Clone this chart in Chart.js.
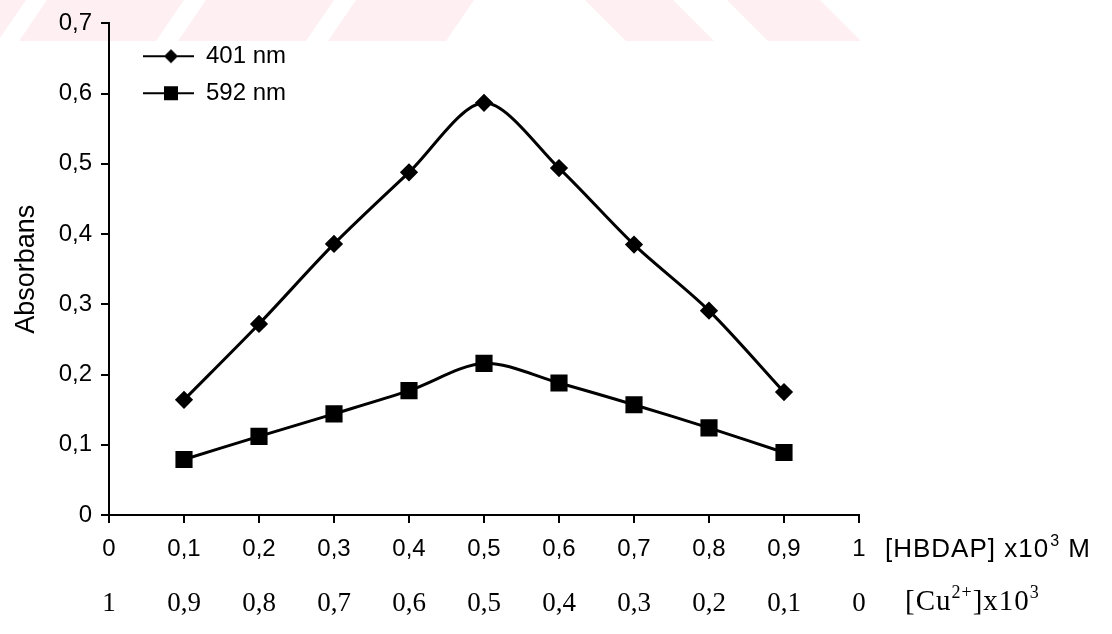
<!DOCTYPE html>
<html>
<head>
<meta charset="utf-8">
<script src="https://cdn.jsdelivr.net/npm/chart.js@4"></script>
<style>
  html, body { margin: 0; padding: 0; background: #fff; }
  #wrap { width: 1112px; height: 634px; position: relative; }
</style>
</head>
<body>
<div id="wrap"><canvas id="myChart"></canvas></div>
<script>
// concentrations (x) and absorbance values
const hbdapConc = [0.1, 0.2, 0.3, 0.4, 0.5, 0.6, 0.7, 0.8, 0.9];
const abs401 = [0.164, 0.272, 0.386, 0.488, 0.587, 0.494, 0.385, 0.291, 0.175];
const abs592 = [0.079, 0.112, 0.144, 0.177, 0.216, 0.188, 0.157, 0.124, 0.089];
const seriesNames = ['401 nm', '592 nm'];

// tick labels
const hbdapTicks = ['0', '0,1', '0,2', '0,3', '0,4', '0,5', '0,6', '0,7', '0,8', '0,9', '1'];
const cuTicks = ['1', '0,9', '0,8', '0,7', '0,6', '0,5', '0,4', '0,3', '0,2', '0,1', '0'];
const yTicks = ['0', '0,1', '0,2', '0,3', '0,4', '0,5', '0,6', '0,7'];

const SANS = "'Liberation Sans', Arial, sans-serif";
const SERIF = "'Liberation Serif', 'Times New Roman', serif";

Chart.defaults.font.family = SANS;
Chart.defaults.font.size = 24;
Chart.defaults.color = '#000';

// little legend icons: line with the marker in it
function legendIcon(kind) {
    const c = document.createElement('canvas');
    c.width = 72;
    c.height = 16;
    const g = c.getContext('2d');
    g.strokeStyle = '#000';
    g.lineWidth = 2;
    g.beginPath();
    g.moveTo(21, 8);
    g.lineTo(72, 8);
    g.stroke();
    g.fillStyle = '#000';
    g.beginPath();
    if (kind === 'diamond') {
        g.moveTo(49, 1); g.lineTo(56, 8); g.lineTo(49, 15); g.lineTo(42, 8);
    } else {
        g.rect(42, 1, 14, 14);
    }
    g.closePath();
    g.fill();
    return c;
}
const icons = [legendIcon('diamond'), legendIcon('square')];

// faint pink stripes of the scan at the top
const watermark = {
    id: 'watermark',
    beforeDraw(chart) {
        const ctx = chart.ctx;
        ctx.save();
        ctx.fillStyle = 'rgb(253,239,242)';
        const h = 41;
        const slashes = [[-40, 26], [47, 184], [206, 334], [356, 474]];
        slashes.forEach(([a, b]) => {
            ctx.beginPath();
            ctx.moveTo(a, 0); ctx.lineTo(b, 0); ctx.lineTo(b - 28, h); ctx.lineTo(a - 28, h);
            ctx.closePath(); ctx.fill();
        });
        const backs = [[585, 673], [727, 820]];
        backs.forEach(([a, b]) => {
            ctx.beginPath();
            ctx.moveTo(a, 0); ctx.lineTo(b, 0); ctx.lineTo(b + 41, h); ctx.lineTo(a + 41, h);
            ctx.closePath(); ctx.fill();
        });
        ctx.restore();
    }
};

// axis captions right of the tick rows
const sideTitles = {
    id: 'sideTitles',
    afterDraw(chart) {
        const ctx = chart.ctx;
        const right = chart.chartArea.right;
        ctx.save();
        ctx.fillStyle = '#000';
        ctx.textBaseline = 'alphabetic';
        ctx.textAlign = 'left';

        ctx.letterSpacing = '1px';
        let x = right + 26;
        let y = 557;
        ctx.font = '26px ' + SANS;
        ctx.fillText('[HBDAP] x10', x, y);
        x += ctx.measureText('[HBDAP] x10').width + 1;
        ctx.font = '16px ' + SANS;
        ctx.fillText('3', x, y - 11);
        x += ctx.measureText('3').width;
        ctx.font = '26px ' + SANS;
        ctx.fillText(' M', x, y);

        x = right + 46;
        y = 610;
        ctx.font = '29px ' + SERIF;
        ctx.fillText('[Cu', x, y);
        x += ctx.measureText('[Cu').width;
        ctx.font = '18px ' + SERIF;
        ctx.fillText('2+', x, y - 12);
        x += ctx.measureText('2+').width;
        ctx.font = '29px ' + SERIF;
        ctx.fillText(']x10', x, y);
        x += ctx.measureText(']x10').width;
        ctx.font = '18px ' + SERIF;
        ctx.fillText('3', x, y - 12);
        ctx.restore();
    }
};

function tickIndex(value) {
    return Math.round(value * 10);
}

const ctx = document.getElementById('myChart').getContext('2d');
const myChart = new Chart(ctx, {
    type: 'line',
    data: {
        datasets: [{
            label: seriesNames[0],
            data: hbdapConc.map((x, i) => ({ x: x, y: abs401[i] })),
            borderColor: '#000',
            backgroundColor: '#000',
            borderWidth: 3,
            pointStyle: 'rectRot',
            pointRadius: 7,
            tension: 0.3
        }, {
            label: seriesNames[1],
            data: hbdapConc.map((x, i) => ({ x: x, y: abs592[i] })),
            borderColor: '#000',
            backgroundColor: '#000',
            borderWidth: 3,
            pointStyle: 'rect',
            pointRadius: 10,
            tension: 0.3
        }]
    },
    options: {
        responsive: true,
        maintainAspectRatio: false,
        animation: false,
        events: [],
        layout: {
            padding: { top: 20, right: 253, bottom: 0, left: 0 }
        },
        plugins: {
            tooltip: { enabled: false },
            legend: {
                position: 'chartArea',
                align: 'start',
                title: { display: true, text: ' ', font: { size: 1 }, padding: { top: 25, bottom: 5 } },
                labels: {
                    usePointStyle: true,
                    pointStyleWidth: 72,
                    padding: 13,
                    color: '#000',
                    font: { size: 24 },
                    generateLabels(chart) {
                        const items = Chart.defaults.plugins.legend.labels.generateLabels(chart);
                        items.forEach((it, i) => { it.pointStyle = icons[i]; });
                        return items;
                    }
                }
            }
        },
        scales: {
            x: {
                type: 'linear',
                position: 'bottom',
                min: 0,
                max: 1,
                afterFit(scale) { scale.height = 45; },
                ticks: {
                    stepSize: 0.1,
                    padding: 12,
                    maxRotation: 0,
                    autoSkip: false,
                    callback: (v) => hbdapTicks[tickIndex(v)]
                },
                grid: { drawOnChartArea: false, drawTicks: true, tickLength: 8, color: '#000', lineWidth: 2 },
                border: { display: true, color: '#000', width: 2 }
            },
            x2: {
                type: 'linear',
                position: 'bottom',
                min: 0,
                max: 1,
                afterFit(scale) { scale.height = 74; },
                ticks: {
                    stepSize: 0.1,
                    padding: 28,
                    maxRotation: 0,
                    autoSkip: false,
                    font: { family: SERIF, size: 27 },
                    callback: (v) => cuTicks[tickIndex(v)]
                },
                grid: { display: false, drawTicks: false },
                border: { display: false }
            },
            y: {
                min: 0,
                max: 0.7,
                afterFit(scale) { scale.width = 109; },
                ticks: {
                    stepSize: 0.1,
                    padding: 9,
                    callback: (v) => yTicks[tickIndex(v)]
                },
                title: {
                    display: true,
                    text: 'Absorbans',
                    color: '#000',
                    font: { size: 27 },
                    padding: { top: 10, bottom: 0 }
                },
                grid: { drawOnChartArea: false, drawTicks: true, tickLength: 8, color: '#000', lineWidth: 2 },
                border: { display: true, color: '#000', width: 2 }
            }
        }
    },
    plugins: [watermark, sideTitles]
});
</script>
</body>
</html>
